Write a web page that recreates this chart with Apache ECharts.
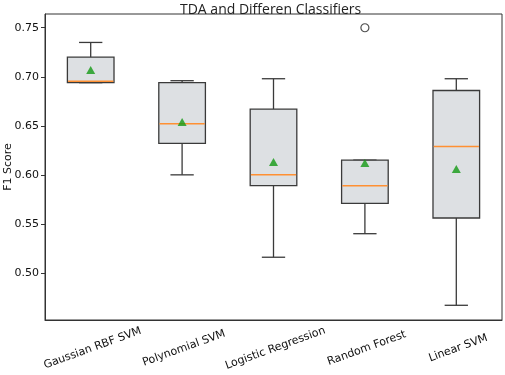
<!DOCTYPE html>
<html>
<head>
<meta charset="utf-8">
<script src="https://cdn.jsdelivr.net/npm/echarts@6/dist/echarts.min.js"></script>
<style>
  html, body { margin: 0; padding: 0; background: #fff; }
  #main { width: 505px; height: 375px; }
</style>
</head>
<body>
<div id="main"></div>
<script>
// classifiers and box statistics
var categories = ['Gaussian RBF SVM', 'Polynomial SVM', 'Logistic Regression', 'Random Forest', 'Linear SVM'];
var whiskerLow  = [0.694, 0.600, 0.516, 0.540, 0.467];
var q1Values    = [0.694, 0.632, 0.589, 0.571, 0.556];
var medians     = [0.6955, 0.652, 0.600, 0.589, 0.629];
var q3Values    = [0.720, 0.694, 0.667, 0.615, 0.686];
var whiskerHigh = [0.735, 0.696, 0.698, 0.615, 0.698];
var means       = [0.707, 0.654, 0.613, 0.612, 0.606];
var outliers    = [[3, 0.750]];
var yTicks      = [0.50, 0.55, 0.60, 0.65, 0.70, 0.75];

var boxData = [];
for (var i = 0; i < categories.length; i++) {
    boxData.push([i, whiskerLow[i], q1Values[i], medians[i], q3Values[i], whiskerHigh[i]]);
}
var meanData = [];
for (var i = 0; i < means.length; i++) {
    meanData.push([i, means[i]]);
}

var EDGE = '#3a3a3a';

function renderBox(params, api) {
    var x = api.value(0);
    var pLow = api.coord([x, api.value(1)]);
    var pQ1 = api.coord([x, api.value(2)]);
    var pMed = api.coord([x, api.value(3)]);
    var pQ3 = api.coord([x, api.value(4)]);
    var pHigh = api.coord([x, api.value(5)]);
    var band = api.size([1, 0])[0];
    var bw = band * 0.51;
    var cw = bw * 0.5;
    var cx = pQ1[0];
    var line = { stroke: EDGE, lineWidth: 1.3 };
    return {
        type: 'group',
        children: [
            { type: 'line', shape: { x1: cx, y1: pQ3[1], x2: cx, y2: pHigh[1] }, style: line },
            { type: 'line', shape: { x1: cx, y1: pQ1[1], x2: cx, y2: pLow[1] }, style: line },
            { type: 'line', shape: { x1: cx - cw / 2, y1: pHigh[1], x2: cx + cw / 2, y2: pHigh[1] }, style: line },
            { type: 'line', shape: { x1: cx - cw / 2, y1: pLow[1], x2: cx + cw / 2, y2: pLow[1] }, style: line },
            { type: 'rect', shape: { x: cx - bw / 2, y: pQ3[1], width: bw, height: pQ1[1] - pQ3[1] },
              style: { fill: '#dde0e3', stroke: EDGE, lineWidth: 1.3 } },
            { type: 'line', shape: { x1: cx - bw / 2 + 0.7, y1: pMed[1], x2: cx + bw / 2 - 0.7, y2: pMed[1] },
              style: { stroke: '#ff9033', lineWidth: 1.5 } }
        ]
    };
}

var option = {
    animation: false,
    backgroundColor: '#fff',
    title: {
        text: 'TDA and Differen Classifiers',
        left: 175,
        top: -2,
        textStyle: { fontFamily: 'Open Sans', fontSize: 14, fontWeight: 'normal', color: '#222' }
    },
    grid: {
        left: 45, right: 3, top: 14, bottom: 55,
        outerBoundsMode: 'none',
        containLabel: false,
        show: true, borderColor: '#333', borderWidth: 1
    },
    xAxis: {
        type: 'category',
        data: categories,
        boundaryGap: true,
        axisLine: { lineStyle: { color: '#333' } },
        axisTick: { alignWithLabel: true, length: 4, lineStyle: { color: '#333' } },
        axisLabel: {
            interval: 0,
            rotate: 20,
            align: 'center',
            verticalAlign: 'top',
            margin: 23,
            fontFamily: 'DejaVu Sans',
            fontSize: 11,
            color: '#111'
        },
        splitLine: { show: false }
    },
    yAxis: {
        type: 'value',
        min: 0.452,
        max: 0.764,
        name: 'F1 Score',
        nameLocation: 'middle',
        nameGap: 31,
        nameMoveOverlap: false,
        nameTextStyle: { fontFamily: 'DejaVu Sans', fontSize: 11, color: '#111' },
        axisLine: { show: true, lineStyle: { color: '#333' } },
        axisTick: { show: true, length: 4, customValues: yTicks, lineStyle: { color: '#333' } },
        axisLabel: {
            customValues: yTicks,
            formatter: function (v) { return v.toFixed(2); },
            fontFamily: 'DejaVu Sans',
            fontSize: 11,
            color: '#111',
            margin: 6
        },
        splitLine: { show: false }
    },
    series: [
        {
            type: 'custom',
            renderItem: renderBox,
            encode: { x: 0, y: [1, 2, 3, 4, 5] },
            data: boxData,
            z: 2
        },
        {
            type: 'scatter',
            data: meanData,
            symbol: 'triangle',
            symbolSize: [9, 8],
            itemStyle: { color: '#149a14' },
            z: 5
        },
        {
            type: 'scatter',
            data: outliers,
            symbol: 'circle',
            symbolSize: 8,
            itemStyle: { color: '#fff', borderColor: '#222', borderWidth: 1.2 },
            z: 5
        }
    ]
};

var myChart = echarts.init(document.getElementById('main'));
myChart.setOption(option);
</script>
</body>
</html>
